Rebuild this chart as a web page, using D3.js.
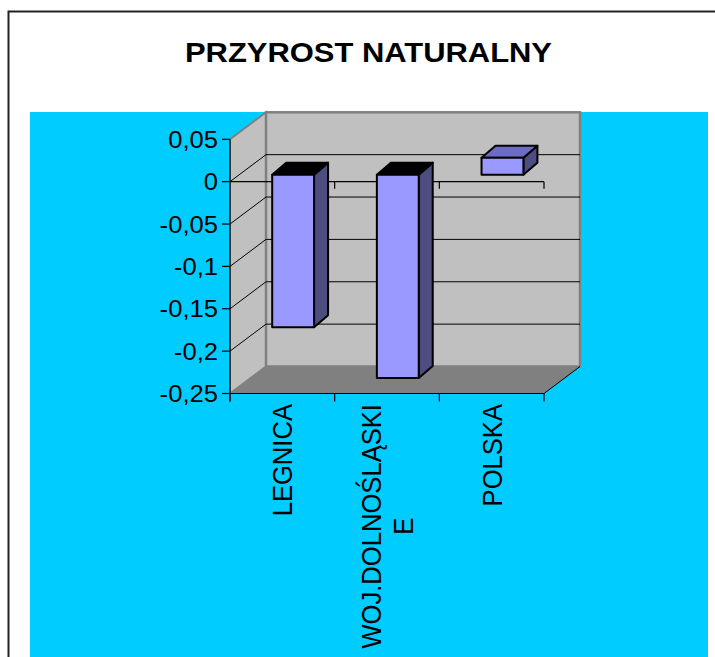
<!DOCTYPE html>
<html>
<head>
<meta charset="utf-8">
<script src="https://cdn.jsdelivr.net/npm/d3@7"></script>
<style>
  body { margin: 0; background: #fff; }
  text { font-family: "Liberation Sans", Arial, sans-serif; fill: #000; }
</style>
</head>
<body>
<div id="chart"></div>
<script>
// DATA
const categories = ["LEGNICA", "WOJ.DOLNOŚLĄSKIE", "POLSKA"];
const labelLines = [["LEGNICA"], ["WOJ.DOLNOŚLĄSKI", "E"], ["POLSKA"]]; // wrapped like in the original
const values = [-0.18, -0.24, 0.02];
const yTicks = [0.05, 0, -0.05, -0.1, -0.15, -0.2, -0.25];
const chartTitle = "PRZYROST NATURALNY";

// 1: CREATE BLANK SVG
const W = 715, H = 657;
const svg = d3.select("#chart")
    .append("svg")
    .attr("width", W)
    .attr("height", H);

// frame + cyan plot background
svg.append("rect")
    .attr("x", 8.5).attr("y", 11.5)
    .attr("width", 740).attr("height", 700)
    .attr("fill", "#fff")
    .attr("stroke", "#222")
    .attr("stroke-width", 2);

svg.append("rect")
    .attr("x", 30).attr("y", 112)
    .attr("width", 678).attr("height", 560)
    .attr("fill", "#00ccff");

// title
svg.append("text")
    .attr("x", 368.5)
    .attr("y", 61.7)
    .attr("text-anchor", "middle")
    .attr("font-size", 28)
    .attr("font-weight", "bold")
    .attr("textLength", 367)
    .attr("lengthAdjust", "spacingAndGlyphs")
    .text(chartTitle);

// 2: SCALES
const xScale = d3.scaleBand()
    .domain(categories)
    .range([230, 544]);

const yScale = d3.scaleLinear()
    .domain([-0.25, 0.05])
    .range([393.5, 139.3]);

const fmt = d3.formatLocale({ decimal: ",", thousands: " ", grouping: [3], currency: ["", ""], minus: "-" }).format("~g");

// 3D depth: walls go back by D, bars sit in the middle of the depth
const D = { x: 36, y: -27 };
const front = { x: 10.8, y: -7 };   // bar front face offset
const depth = { x: 14, y: -12 };    // bar thickness on screen

const yTop = yScale(0.05), yBot = yScale(-0.25);
const x0 = xScale.range()[0], x1 = xScale.range()[1];
const pts = arr => arr.map(p => p.join(",")).join(" ");

// 3: WALLS AND FLOOR
// side wall
svg.append("polygon")
    .attr("points", pts([[x0, yTop], [x0 + D.x, yTop + D.y], [x0 + D.x, yBot + D.y], [x0, yBot]]))
    .attr("fill", "#c0c0c0")
    .attr("stroke", "#808080")
    .attr("stroke-width", 2);

// back wall
svg.append("rect")
    .attr("x", x0 + D.x).attr("y", yTop + D.y)
    .attr("width", x1 - x0).attr("height", yBot - yTop)
    .attr("fill", "#c0c0c0")
    .attr("stroke", "#808080")
    .attr("stroke-width", 2.5);

// floor
svg.append("polygon")
    .attr("points", pts([[x0, yBot], [x0 + D.x, yBot + D.y], [x1 + D.x, yBot + D.y], [x1, yBot]]))
    .attr("fill", "#808080");

svg.append("line")
    .attr("x1", x1).attr("y1", yBot)
    .attr("x2", x1 + D.x).attr("y2", yBot + D.y)
    .attr("stroke", "#000").attr("stroke-width", 1);

// gridlines (back wall + side wall)
const inner = yTicks.filter(t => t < 0.04 && t > -0.24);
svg.selectAll(".grid-back")
    .data(inner)
    .enter()
    .append("line")
    .attr("x1", x0 + D.x).attr("x2", x1 + D.x)
    .attr("y1", d => yScale(d) + D.y).attr("y2", d => yScale(d) + D.y)
    .attr("stroke", "#000").attr("stroke-width", 1);

svg.selectAll(".grid-side")
    .data(inner)
    .enter()
    .append("line")
    .attr("x1", x0).attr("y1", d => yScale(d))
    .attr("x2", x0 + D.x).attr("y2", d => yScale(d) + D.y)
    .attr("stroke", "#000").attr("stroke-width", 1);

// category line at zero (front plane)
const bounds = categories.map(c => xScale(c)).concat([x1]);
svg.append("line")
    .attr("x1", x0).attr("x2", x1)
    .attr("y1", yScale(0)).attr("y2", yScale(0))
    .attr("stroke", "#000").attr("stroke-width", 1.2);
svg.selectAll(".zero-tick")
    .data(bounds.slice(1))
    .enter()
    .append("line")
    .attr("x1", d => d).attr("x2", d => d)
    .attr("y1", yScale(0)).attr("y2", yScale(0) + 7)
    .attr("stroke", "#000").attr("stroke-width", 1.2);

// 4: BARS
const bw = xScale.bandwidth() * 0.4;
const bars = svg.append("g").attr("class", "bars")
    .selectAll("g")
    .data(values)
    .enter()
    .append("g");

const bx = (d, i) => xScale(categories[i]) + xScale.bandwidth() / 2 - bw / 2 + front.x;
const bTop = d => yScale(Math.max(d, 0)) + front.y;
const bBot = d => yScale(Math.min(d, 0)) + front.y;

// side face
bars.append("polygon")
    .attr("points", (d, i) => {
        const r = bx(d, i) + bw;
        return pts([[r, bTop(d)], [r + depth.x, bTop(d) + depth.y], [r + depth.x, bBot(d) + depth.y], [r, bBot(d)]]);
    })
    .attr("fill", "#4d4d80");

// top face (black for negative bars, shaded for positive)
bars.append("polygon")
    .attr("points", (d, i) => {
        const l = bx(d, i), r = l + bw, t = bTop(d);
        return pts([[l, t], [l + depth.x, t + depth.y], [r + depth.x, t + depth.y], [r, t]]);
    })
    .attr("fill", d => d < 0 ? "#000" : "#6c6cc6");

// front face
bars.append("rect")
    .attr("x", (d, i) => bx(d, i))
    .attr("y", d => bTop(d))
    .attr("width", bw)
    .attr("height", d => bBot(d) - bTop(d))
    .attr("fill", "#9999ff");

bars.selectAll("polygon, rect")
    .attr("stroke", "#000")
    .attr("stroke-width", 2)
    .attr("stroke-linejoin", "round");

// 5: AXES
// value axis
svg.append("line")
    .attr("x1", x0).attr("x2", x0)
    .attr("y1", yTop).attr("y2", yBot + 8)
    .attr("stroke", "#000").attr("stroke-width", 1.2);

svg.selectAll(".ytick")
    .data(yTicks)
    .enter()
    .append("line")
    .attr("x1", x0 - 8).attr("x2", x0)
    .attr("y1", d => yScale(d)).attr("y2", d => yScale(d))
    .attr("stroke", "#000").attr("stroke-width", 1.2);

svg.selectAll(".ylabel")
    .data(yTicks)
    .enter()
    .append("text")
    .attr("transform", d => `translate(218,${yScale(d)}) scale(1.09,1)`)
    .attr("dy", "0.36em")
    .attr("text-anchor", "end")
    .attr("font-size", 23.5)
    .text(d => fmt(d));

// category axis at the floor
svg.append("line")
    .attr("x1", x0).attr("x2", x1)
    .attr("y1", yBot).attr("y2", yBot)
    .attr("stroke", "#000").attr("stroke-width", 1.2);

svg.selectAll(".xtick")
    .data(bounds)
    .enter()
    .append("line")
    .attr("x1", d => d).attr("x2", d => d)
    .attr("y1", yBot).attr("y2", yBot + 8)
    .attr("stroke", "#000").attr("stroke-width", 1.2);

// 6: CATEGORY LABELS (rotated, top aligned under the axis)
const fs = 25.6, lineGap = 32, capH = 0.716 * fs * 1.09, labelTop = 404;
labelLines.forEach((lines, i) => {
    const cx = xScale(categories[i]) + xScale.bandwidth() / 2;
    const g = svg.append("g");
    const texts = lines.map((s, j) => g.append("text")
        .attr("font-size", fs)
        .attr("text-anchor", "middle")
        .text(s));
    const maxLen = d3.max(texts, t => t.node().getComputedTextLength());
    texts.forEach((t, j) => {
        const bx = cx - (lines.length - 1) * lineGap / 2 + j * lineGap + capH / 2;
        t.attr("transform", `translate(${bx},${labelTop + maxLen / 2}) scale(1.09,1) rotate(-90)`);
    });
});
</script>
</body>
</html>
